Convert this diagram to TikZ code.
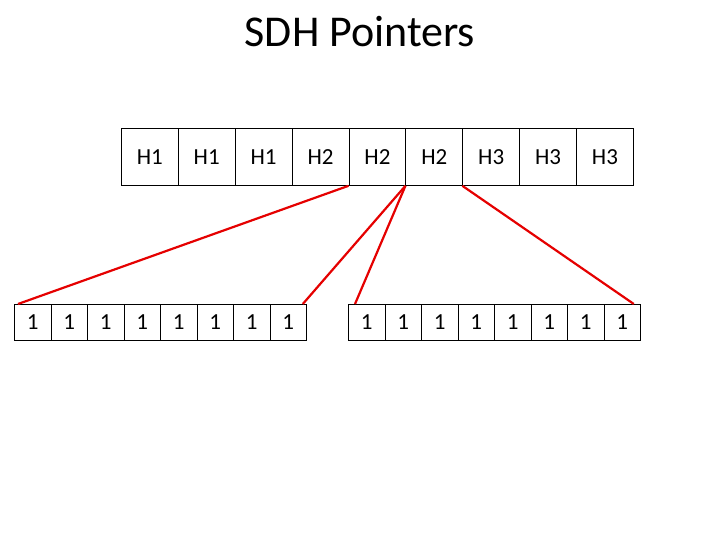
\documentclass[tikz,border=0pt]{standalone}
\usepackage{fontspec}
\setmainfont{Carlito}
\begin{document}
\begin{tikzpicture}[x=1pt,y=-1pt,
  topcell/.style={draw=black,line width=0.8pt,minimum width=56.9pt,minimum height=57pt,inner sep=0pt,text height=14.5pt,text depth=0pt,anchor=north west,font=\fontsize{23}{25}\selectfont},
  botcell/.style={draw=black,line width=0.8pt,minimum width=36.5pt,minimum height=36pt,inner sep=0pt,text height=14.5pt,text depth=0pt,anchor=north west,font=\fontsize{23}{25}\selectfont},
  ptr/.style={draw=red!90!black,line width=2.2pt}]
\useasboundingbox (0,0) rectangle (720,540);
\node[font=\fontsize{44}{48}\selectfont] (title) at (360,32) {SDH Pointers};
\foreach \i/\t in {0/H1,1/H1,2/H1,3/H2,4/H2,5/H2,6/H3,7/H3,8/H3}{
  \node[topcell] (t\i) at ({121+\i*56.89},128) {\t};
}
\foreach \i in {0,...,7}{
  \node[botcell] (a\i) at ({14+\i*36.5},304) {1};
  \node[botcell] (b\i) at ({348+\i*36.5},304) {1};
}
\draw[ptr] (t4.south west) -- ([xshift=4pt]a0.north west);
\draw[ptr] (t5.south west) -- ([xshift=-4pt]a7.north east);
\draw[ptr] (t5.south west) -- ([xshift=7pt]b0.north west);
\draw[ptr] (t6.south west) -- ([xshift=-7pt]b7.north east);
\end{tikzpicture}
\end{document}
